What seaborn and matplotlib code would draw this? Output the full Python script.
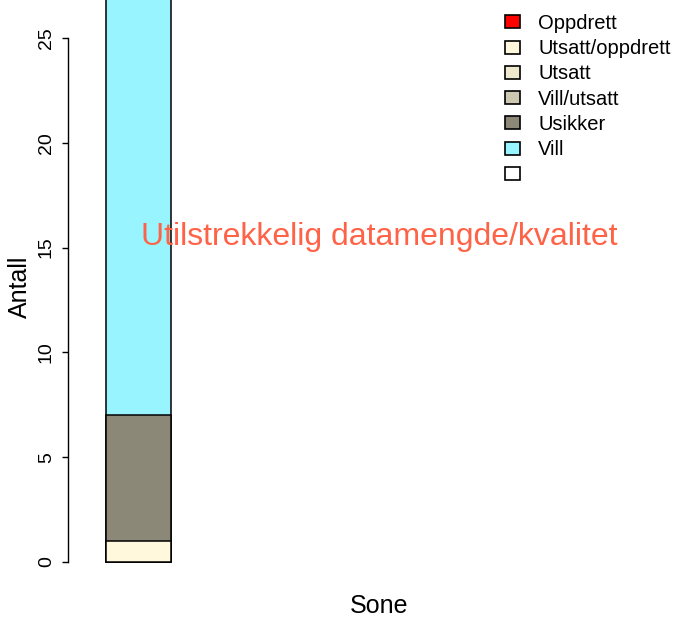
import pandas as pd
import matplotlib
matplotlib.use("Agg")
import matplotlib.pyplot as plt
from matplotlib.patches import Patch
import seaborn as sns

# Data
categories = ["Oppdrett", "Utsatt/oppdrett", "Utsatt", "Vill/utsatt", "Usikker", "Vill", ""]
counts = [0, 1, 0, 0, 6, 22, 0]
colors = ["#FF0000", "#FFF8DC", "#EEE8CD", "#CDC8B1", "#8B8878", "#98F5FF", "#FFFFFF"]
yticks = [0, 5, 10, 15, 20, 25]
group = ["Sone"]

sns.set_style("white")
plt.rcParams["font.family"] = ["Liberation Sans", "DejaVu Sans"]
plt.rcParams["text.color"] = "black"
plt.rcParams["ytick.color"] = "black"
plt.rcParams["ytick.labelcolor"] = "black"

fig = plt.figure(figsize=(6.83, 6.21), dpi=100)
ax = fig.add_axes([68 / 683, 1 - 575 / 621, 615 / 683, 575 / 621])

df = pd.DataFrame({"kat": categories, "antall": counts, "farge": colors})
df["cum"] = df["antall"].cumsum()

# stacked bar: draw cumulative totals from the top segment down
for i in range(len(df) - 1, -1, -1):
    row = df.iloc[i]
    if row["antall"] == 0:
        continue
    sns.barplot(x=group, y=[row["cum"]], color=row["farge"], saturation=1,
                edgecolor="black", linewidth=1.1, width=0.8, ax=ax)

ax.set_xlim(-0.868, 6.70)
ax.set_ylim(-13 / 20.96, 26.81)
ax.set_xticks([])
ax.set_xlabel("")
ax.set_ylabel("")
ax.set_yticks(yticks)
ax.set_yticklabels([str(t) for t in yticks], rotation=90, va="center", fontsize=14)
ax.tick_params(axis="y", length=4.5, width=1, pad=5, left=True, color="black", labelcolor="black")
for s in ["top", "right", "bottom"]:
    ax.spines[s].set_visible(False)
ax.spines["left"].set_bounds(0, 25)
ax.spines["left"].set_color("black")
ax.spines["left"].set_linewidth(1)
ax.patch.set_alpha(0)

fig.text(379 / 683, 1 - 606 / 621, "Sone", ha="center", va="center", fontsize=18, color="black")
fig.text(20 / 683, 1 - 287 / 621, "Antall", ha="center", va="center", rotation=90,
         fontsize=18, color="black")
fig.text(379 / 683, 1 - 237 / 621, "Utilstrekkelig datamengde/kvalitet",
         ha="center", va="center", fontsize=23, color="#FF6347")

handles = [Patch(facecolor=c, edgecolor="black", linewidth=1.2) for c in colors]
leg = fig.legend(handles, categories, loc="upper left",
                 bbox_to_anchor=(505 / 683, 1 - 14 / 621), bbox_transform=fig.transFigure,
                 frameon=False, fontsize=14.5, handlelength=0.75, handleheight=0.62,
                 handletextpad=0.9, labelspacing=0.31, borderpad=0, borderaxespad=0)
for t in leg.get_texts():
    t.set_color("black")

fig.savefig("out.png", dpi=100)
